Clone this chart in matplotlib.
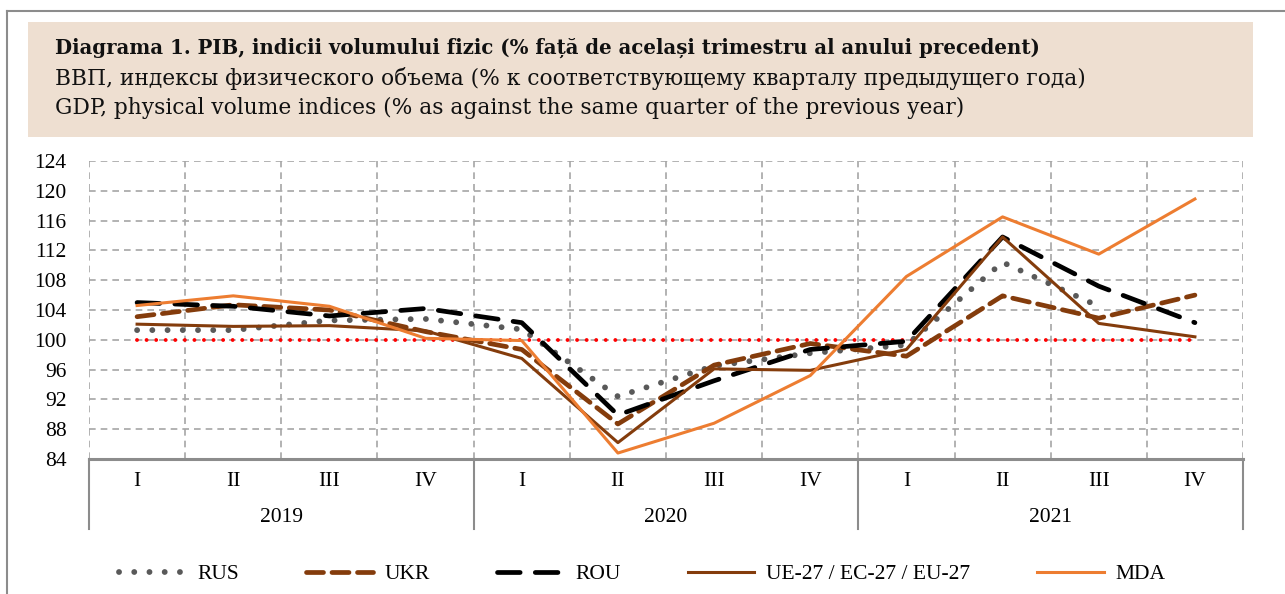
import numpy as np
import matplotlib
matplotlib.use('Agg')
import matplotlib.pyplot as plt
import matplotlib.transforms as mtransforms
from matplotlib.patches import Rectangle
from matplotlib.lines import Line2D

plt.rcParams['font.family'] = ['Liberation Serif', 'DejaVu Serif']

# data
quarters = ['I', 'II', 'III', 'IV'] * 3
years = ['2019', '2020', '2021']

rus = [101.3, 101.3, 102.6, 102.8, 101.4, 92.4, 96.5, 98.2, 99.3, 110.4, 104.5, np.nan]
ukr = [103.1, 104.7, 104.0, 101.1, 98.7, 88.7, 96.6, 99.5, 97.8, 105.9, 102.9, 106.0]
rou = [105.0, 104.5, 103.2, 104.2, 102.3, 89.9, 94.5, 98.7, 99.8, 113.8, 107.2, 102.3]
eu = [102.1, 101.8, 101.9, 101.2, 97.5, 86.2, 96.1, 95.9, 98.7, 113.8, 102.2, 100.4]
mda = [104.6, 105.9, 104.5, 100.2, 99.9, 84.8, 88.8, 95.2, 108.5, 116.5, 111.5, 118.9]
base = [100] * 12

title_lines = [
    'Diagrama 1. PIB, indicii volumului fizic (% față de același trimestru al anului precedent)',
    'ВВП, индексы физического объема (% к соответствующему кварталу предыдущего года)',
    'GDP, physical volume indices (% as against the same quarter of the previous year)',
]

W, H = 1285, 594
fig = plt.figure(figsize=(W / 100, H / 100), dpi=100)

# outer frame (only top and left edges visible)
fig.add_artist(Line2D([7 / W, 1], [1 - 11 / H, 1 - 11 / H], color='#8c8c8c', lw=1.5))
fig.add_artist(Line2D([7 / W, 7 / W], [0, 1 - 11 / H], color='#8c8c8c', lw=1.5))

# title box
fig.add_artist(Rectangle((28 / W, 1 - 137 / H), 1225 / W, 115 / H,
                         facecolor='#eedfd1', edgecolor='none'))
for i, (t, yy) in enumerate(zip(title_lines, [48, 78, 108])):
    fig.text(55 / W, 1 - yy / H, t, fontsize=14.2 if i == 0 else 15.7,
             va='center', ha='left', family='DejaVu Serif',
             fontweight='bold' if i == 0 else 'normal', color='#111111')

ax = fig.add_axes([89 / W, 1 - 459 / H, (1243 - 89) / W, (459 - 161) / H])
x = np.arange(12)

ax.plot(x, base, color='red', lw=2.8, linestyle=(0, (0.01, 2.45)),
        dash_capstyle='round', zorder=2)
ax.plot(x, rus, color='#595959', lw=4.2, linestyle=(0, (0.01, 2.6)),
        dash_capstyle='round', label='RUS', zorder=3)
ax.plot(x, ukr, color='#843c0c', lw=3.4, linestyle=(0, (3.6, 1.8)),
        dash_capstyle='round', label='UKR', zorder=3)
ax.plot(x, rou, color='black', lw=3.4, linestyle=(0, (4.8, 3.2)),
        dash_capstyle='round', label='ROU', zorder=3)
ax.plot(x, eu, color='#843c0c', lw=2.2, label='UE-27 / EC-27 / EU-27', zorder=4)
ax.plot(x, mda, color='#ed7d31', lw=2.2, label='MDA', zorder=5)

ax.set_xlim(-0.5, 11.5)
ax.set_ylim(84, 124)
ax.set_yticks(np.arange(84, 125, 4))
ax.set_xticks(x)
ax.set_xticklabels(quarters)
ax.set_xticks(np.arange(-0.5, 12, 1), minor=True)
ax.tick_params(axis='y', length=0, pad=16, labelsize=15.5)
ax.tick_params(axis='x', which='major', length=0, pad=9, labelsize=15.5)
ax.tick_params(axis='x', which='minor', length=0)

ax.grid(axis='y', color='#a6a6a6', linestyle=(0, (4, 3)), lw=1.2)
ax.grid(axis='x', which='minor', color='#a6a6a6', linestyle=(0, (4, 3)), lw=1.2)
for s in ['left', 'right', 'top']:
    ax.spines[s].set_visible(False)
ax.spines['bottom'].set_color('#8c8c8c')
ax.spines['bottom'].set_linewidth(2.2)
ax.spines['bottom'].set_zorder(6)

# year groups below the quarter labels
trans = mtransforms.blended_transform_factory(ax.transData, ax.transAxes)
for k, yr in enumerate(years):
    ax.text(4 * k + 1.5, -0.197, yr, transform=trans, ha='center', va='center', fontsize=15.5)
for b in [-0.5, 3.5, 7.5, 11.5]:
    ax.plot([b, b], [0, -0.235], transform=trans, color='#8c8c8c', lw=1.5, clip_on=False)

fig.legend(loc='center', bbox_to_anchor=(0.5, 1 - 574 / H), ncol=5, frameon=False,
           fontsize=15.5, handlelength=3.1, handletextpad=0.55, columnspacing=3.1)

fig.savefig('out.png', dpi=100)
